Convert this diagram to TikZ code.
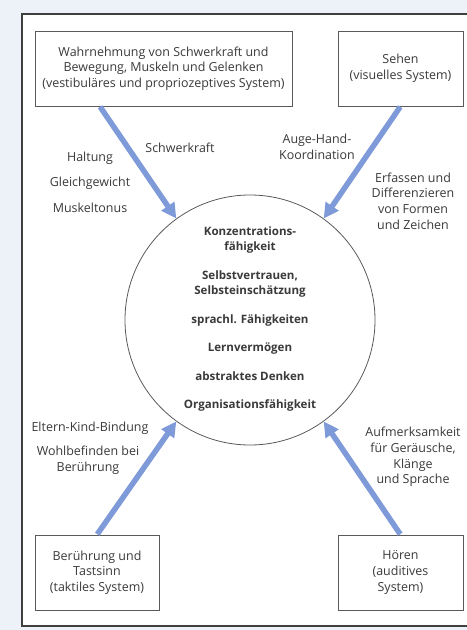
\documentclass[tikz,border=0pt]{standalone}
\usepackage{fontspec}
\setmainfont{Open Sans}
\usetikzlibrary{arrows.meta,calc}
\definecolor{bgblue}{HTML}{EDF2F8}
\definecolor{txt}{HTML}{3A3A3A}
\definecolor{boxline}{HTML}{5A5A5A}
\definecolor{arrblue}{HTML}{7E9AD8}
\begin{document}
\begin{tikzpicture}[x=1bp,y=-1bp,
  font=\fontsize{12.5}{15.8}\selectfont, text=txt,
  box/.style={draw=boxline, line width=0.8bp, align=center, inner sep=0pt, minimum height=75bp},
  lbl/.style={align=center, inner sep=0pt},
  flow/.style={draw=arrblue, line width=5.5bp, -{Triangle[width=15bp,length=15bp]}, shorten <=0.5bp}]
\useasboundingbox (0,0) rectangle (467,630);
\fill[bgblue] (0,0) rectangle (467,630);
\fill[white] (22,14) rectangle (467,626);
\draw[boxline!70!black, line width=1.6bp] (467,14) -- (22,14) -- (22,626) -- (467,626);
% boxes
\node[box, minimum width=257bp] (tl) at (163.5,68.5) {Wahrnehmung von Schwerkraft und\\Bewegung, Muskeln und Gelenken\\(vestibuläres und propriozeptives System)};
\node[box, minimum width=125bp] (tr) at (400.5,68.5) {Sehen\\(visuelles System)};
\node[box, minimum width=124bp] (bl) at (97,572.5) {Berührung und\\Tastsinn\\(taktiles System)};
\node[box, minimum width=125bp] (br) at (400.5,572.5) {Hören\\(auditives\\System)};
% circle
\node[draw=boxline, line width=0.8bp, circle, minimum size=250bp, inner sep=0pt] (c) at (250,320) {};
\node[lbl, font=\fontsize{11.6}{15.5}\selectfont\bfseries] (ct) at (250,319) {Konzentrations-\\fähigkeit\\[13bp]Selbstvertrauen,\\Selbsteinschätzung\\[13bp]sprachl. Fähigkeiten\\[13bp]Lernvermögen\\[13bp]abstraktes Denken\\[13bp]Organisationsfähigkeit};
% arrows
\draw[flow] ($(tl.south west)!0.253!(tl.south east)$) -- (c.126);
\draw[flow] (tr.south) -- (c.54);
\draw[flow] (bl.north) -- (c.234);
\draw[flow] (br.north) -- (c.306);
% labels
\node[lbl] (sk) at (180,148) {Schwerkraft};
\node[lbl] (ha) at (90,158) {Haltung};
\node[lbl] (gg) at (90,183) {Gleichgewicht};
\node[lbl] (mt) at (90,208) {Muskeltonus};
\node[lbl] (ah) at (317,147) {Auge-Hand-\\Koordination};
\node[lbl] (ef) at (413,201) {Erfassen und\\Differenzieren\\von Formen\\und Zeichen};
\node[lbl] (ek) at (90,428) {Eltern-Kind-Bindung};
\node[lbl] (wb) at (88,460) {Wohlbefinden bei\\Berührung};
\node[lbl] (af) at (413,457) {Aufmerksamkeit\\für Geräusche,\\Klänge\\und Sprache};
\end{tikzpicture}
\end{document}
